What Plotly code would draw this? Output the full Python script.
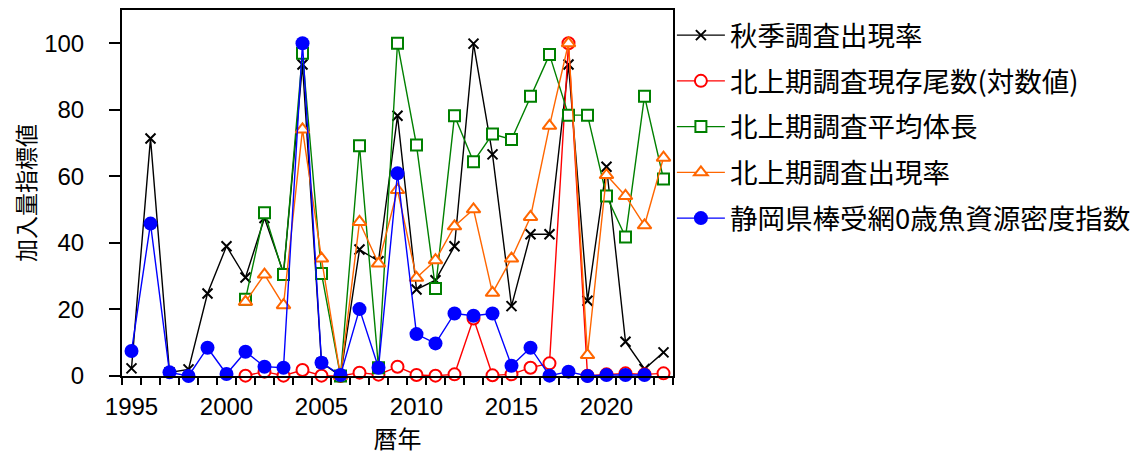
import plotly.graph_objects as go

years = list(range(1995, 2024))

autumn_rate = [2.3, 71.4, 1.1, 2.0, 24.8, 39.0, 29.6, 47.5, 31.0, 93.6,
               4.0, 0.0, 38.0, 34.5, 78.2, 26.0, 28.8, 39.0, 99.9, 66.6,
               21.0, 42.6, 42.6, 93.6, 22.6, 62.9, 10.3, 2.1, 7.1]

north_log_count = [None, None, None, None, None, None, 0.1, 1.3, 0.1, 1.8,
                   0.1, 0.0, 1.0, 0.4, 2.8, 0.3, 0.1, 0.5, 17.3, 0.2,
                   0.5, 2.5, 3.8, 100.0, 0.1, 0.5, 0.8, 0.5, 0.8]

north_mean_length = [None, None, None, None, None, None, 23.1, 49.1, 30.5, 97.0,
                     30.8, 0.0, 69.2, 2.5, 100.0, 69.4, 26.3, 78.2, 64.4, 72.7,
                     71.1, 84.1, 96.6, 78.4, 78.4, 54.1, 41.8, 84.1, 59.2]

north_rate = [None, None, None, None, None, None, 22.3, 30.5, 21.3, 74.1,
              35.3, 0.0, 46.3, 33.8, 55.9, 29.5, 34.8, 45.0, 50.1, 25.0,
              35.3, 47.8, 75.2, 100.0, 6.3, 60.4, 54.1, 45.3, 65.6]

shizuoka_index = [7.5, 45.8, 1.1, 0.0, 8.5, 0.6, 7.3, 2.8, 2.5, 100.0,
                  4.0, 0.3, 20.1, 2.5, 60.9, 12.6, 9.8, 18.8, 18.1, 18.8,
                  3.1, 8.5, 0.1, 1.3, 0.0, 0.3, 0.3, 0.3, None]

x_tick_vals = [1995, 2000, 2005, 2010, 2015, 2020]
x_tick_text = ["1995", "2000", "2005", "2010", "2015", "2020"]
y_tick_vals = [0, 20, 40, 60, 80, 100]

names = ["秋季調査出現率", "北上期調査現存尾数(対数値)", "北上期調査平均体長",
         "北上期調査出現率", "静岡県棒受網0歳魚資源密度指数"]

CJK = "Noto Sans CJK JP"
NUM = "Liberation Sans, Arial"

fig = go.Figure()

specs = [
    (autumn_rate, "#000000", dict(symbol="x-thin", size=10, line=dict(color="#000000", width=2))),
    (north_log_count, "#FF0000", dict(symbol="circle", size=12, color="white", line=dict(color="#FF0000", width=2))),
    (north_mean_length, "#008000", dict(symbol="square", size=11, color="white", line=dict(color="#008000", width=2))),
    (north_rate, "#FF6600", dict(symbol="triangle-up", size=12, color="white", line=dict(color="#FF6600", width=2))),
    (shizuoka_index, "#0000FF", dict(symbol="circle", size=14, color="#0000FF", line=dict(color="#0000FF", width=0))),
]

for i, (vals, col, mk) in enumerate(specs):
    fig.add_trace(go.Scatter(
        x=years, y=vals, mode="lines+markers", name=names[i],
        line=dict(color=col, width=1.4), marker=mk,
        cliponaxis=False, legendgroup=f"g{i}",
    ))

# page body has an 8px margin, so the figure is shifted up/left by 8px
fig.update_layout(
    width=1136, height=453,
    margin=dict(l=114, r=471, t=2, b=85, autoexpand=False),
    paper_bgcolor="white", plot_bgcolor="white",
    showlegend=True,
    legend=dict(
        x=0.998, y=0.998, xanchor="left", yanchor="top",
        font=dict(family=CJK, size=27.5, color="#000000"),
        itemwidth=48, tracegroupgap=7, traceorder="grouped",
        bgcolor="rgba(0,0,0,0)",
    ),
    font=dict(family=NUM, color="#000000"),
)

fig.update_xaxes(
    range=[1994.5, 2023.5],
    tickmode="array", tickvals=x_tick_vals, ticktext=x_tick_text,
    ticks="", showgrid=False, zeroline=False,
    tickfont=dict(family=NUM, size=24, color="#000000"),
    ticklabelstandoff=8,
    showline=True, linecolor="#000000", linewidth=2, mirror=True,
    minor=dict(tick0=1994.5, dtick=1, ticks="outside", ticklen=7,
               tickcolor="#000000", tickwidth=2, showgrid=False),
    title=dict(text="暦年", font=dict(family=CJK, size=24, color="#000000"), standoff=6),
)

fig.update_yaxes(
    range=[0, 110],
    tickmode="array", tickvals=y_tick_vals,
    ticks="outside", ticklen=11, tickwidth=2, tickcolor="#000000",
    showgrid=False, zeroline=False,
    tickfont=dict(family=NUM, size=24, color="#000000"),
    showline=True, linecolor="#000000", linewidth=2, mirror=True,
    ticklabelstandoff=20,
    title=dict(text="加入量指標値", font=dict(family=CJK, size=23, color="#000000"), standoff=20),
)

fig.write_html("out.html")
